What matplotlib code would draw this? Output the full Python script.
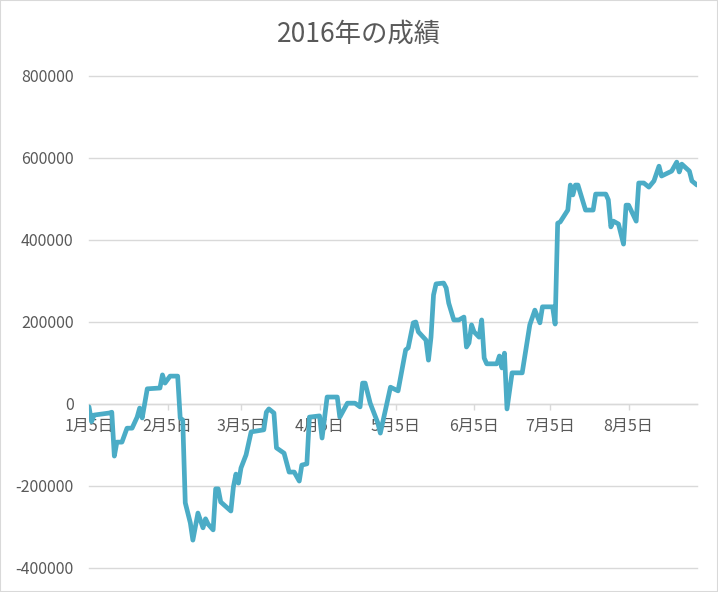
import matplotlib
matplotlib.use("Agg")
import matplotlib.pyplot as plt
import matplotlib.dates as mdates
from matplotlib.patches import Rectangle
import pandas as pd

plt.rcParams['font.family'] = ['Noto Sans CJK JP', 'DejaVu Sans']

title = "2016年の成績"
start_date = "2016-01-05"
day_offsets = [0, 1, 2, 8, 9, 10, 11, 13, 15, 17, 19, 20, 21, 23, 28, 29, 30, 32, 35, 36,
               37, 38, 40, 41, 43, 45, 46, 47, 49, 50, 51, 52, 56, 57, 58, 59, 60, 62, 64, 69,
               70, 71, 73, 74, 77, 79, 81, 83, 84, 86, 87, 91, 92, 94, 98, 99, 102, 105, 107, 108,
               109, 111, 114, 115, 119, 122, 125, 126, 128, 129, 130, 133, 134, 135, 136, 137, 140, 141, 142, 144,
               146, 148, 149, 150, 151, 152, 154, 155, 156, 157, 161, 162, 163, 164, 165, 167, 171, 174, 176, 178,
               179, 183, 184, 185, 186, 189, 190, 191, 192, 193, 196, 199, 200, 204, 205, 206, 207, 209, 211, 212,
               213, 216, 217, 219, 221, 223, 225, 226, 230, 232, 233, 234, 237, 238, 240]
values = [-7000, -43000, -27000, -22000, -20000, -127000, -93000, -93000, -59000, -59000,
          -32000, -10000, -34000, 37000, 39000, 71000, 51000, 68000, 68000, -34000,
          -39000, -241000, -290000, -332000, -266000, -302000, -280000, -293000, -307000, -207000,
          -207000, -239000, -261000, -202000, -171000, -193000, -156000, -124000, -68000, -63000,
          -20000, -12000, -22000, -107000, -120000, -166000, -166000, -188000, -149000, -146000,
          -32000, -29000, -83000, 17000, 17000, -32000, 2000, 2000, -7000, 51000,
          51000, 2000, -46000, -71000, 41000, 32000, 132000, 137000, 198000, 200000,
          176000, 156000, 107000, 163000, 266000, 293000, 295000, 283000, 246000, 205000,
          205000, 212000, 139000, 149000, 193000, 176000, 163000, 205000, 112000, 98000,
          98000, 117000, 88000, 124000, -12000, 76000, 76000, 193000, 229000, 198000,
          237000, 237000, 195000, 441000, 444000, 473000, 534000, 510000, 534000, 534000,
          473000, 473000, 512000, 512000, 498000, 432000, 446000, 439000, 390000, 485000,
          485000, 446000, 539000, 539000, 529000, 544000, 580000, 556000, 568000, 590000,
          566000, 585000, 568000, 544000, 534000]
tick_dates = ["2016-01-05", "2016-02-05", "2016-03-05", "2016-04-05",
              "2016-05-05", "2016-06-05", "2016-07-05", "2016-08-05"]
tick_labels = ["1月5日", "2月5日", "3月5日", "4月5日", "5月5日", "6月5日", "7月5日", "8月5日"]
y_ticks = [-400000, -200000, 0, 200000, 400000, 600000, 800000]

dates = pd.Timestamp(start_date) + pd.to_timedelta(day_offsets, unit="D")

fig = plt.figure(figsize=(7.18, 5.92), dpi=100)
fig.patches.append(Rectangle((0, 0), 1, 1, transform=fig.transFigure, fill=False,
                             edgecolor="#D9D9D9", linewidth=1.5))
ax = fig.add_axes([89/718, 1 - 568/592, (697-89)/718, (568-76)/592])

grid_c = "#D9D9D9"
text_c = "#595959"

ax.plot(dates, values, color="#4BACC6", linewidth=3.4, solid_joinstyle="round",
        solid_capstyle="round", zorder=3)

ax.set_ylim(-400000, 800000)
ax.set_yticks(y_ticks)
ax.set_yticklabels([str(v) for v in y_ticks])
ax.set_xlim(dates[0], dates[-1])
ax.set_xticks(pd.to_datetime(tick_dates))
ax.set_xticklabels(tick_labels)

ax.grid(axis="y", color=grid_c, linewidth=1.0)
for gl in ax.get_ygridlines():
    gl.set_clip_on(False)
ax.set_axisbelow(True)
for s in ["top", "right", "left"]:
    ax.spines[s].set_visible(False)
ax.spines["bottom"].set_position(("data", 0))
ax.spines["bottom"].set_color(grid_c)
ax.spines["bottom"].set_linewidth(1.0)

ax.tick_params(axis="y", length=0, pad=11, labelsize=11.5, labelcolor=text_c)
ax.tick_params(axis="x", direction="out", length=4, width=1, color=grid_c,
               pad=6, labelsize=11.5, labelcolor=text_c)

fig.text(359/718, 1 - 34/592, title, ha="center", va="center", fontsize=19, color=text_c)

fig.savefig("out.png", dpi=100)
